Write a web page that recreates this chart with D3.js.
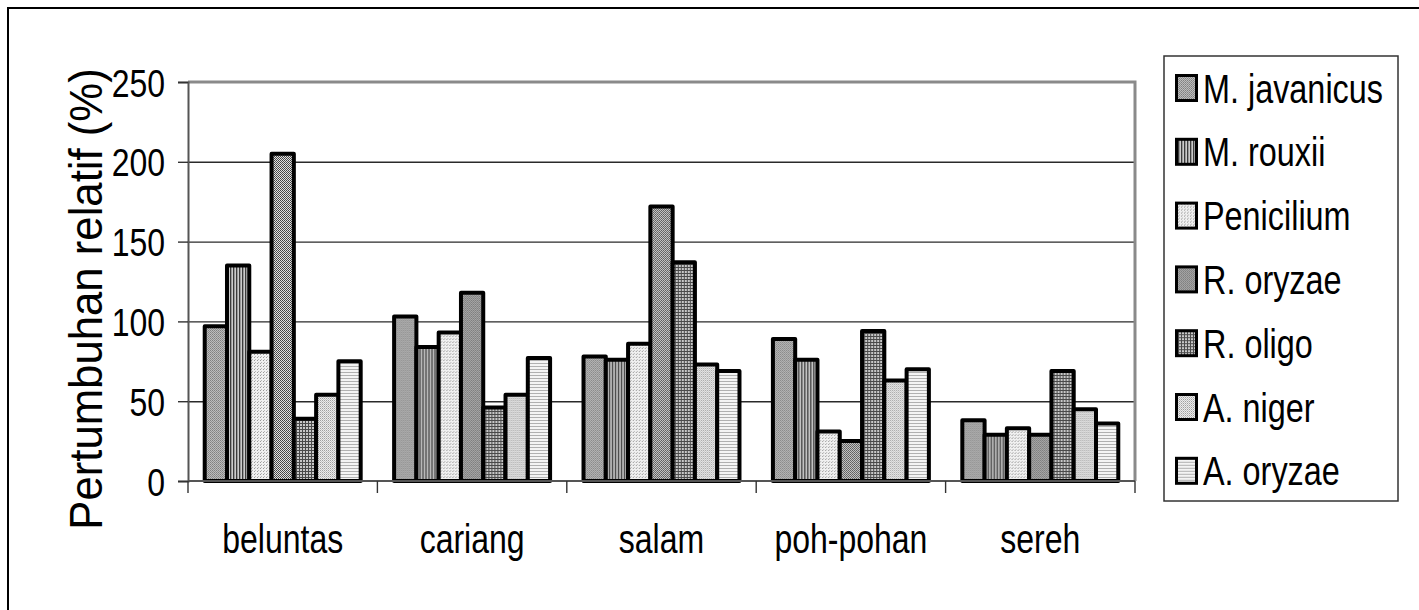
<!DOCTYPE html>
<html>
<head>
<meta charset="utf-8">
<script src="https://cdn.jsdelivr.net/npm/d3@7"></script>
<style>
  body { margin: 0; background: #fff; }
  svg text { font-family: "Liberation Sans", Arial, sans-serif; fill: #000; }
</style>
</head>
<body>
<div id="chart"></div>
<script>
// data
var categories = ["beluntas", "cariang", "salam", "poh-pohan", "sereh"];
var seriesNames = ["M. javanicus", "M. rouxii", "Penicilium", "R. oryzae", "R. oligo", "A. niger", "A. oryzae"];
var mJavanicus = [97, 103, 78, 89, 38];
var mRouxii    = [135, 84, 76, 76, 29];
var penicilium = [81, 93, 86, 31, 33];
var rOryzae    = [205, 118, 172, 25, 29];
var rOligo     = [39, 46, 137, 94, 69];
var aNiger     = [54, 54, 73, 63, 45];
var aOryzae    = [75, 77, 69, 70, 36];
var yTicks = [0, 50, 100, 150, 200, 250];

var seriesValues = [mJavanicus, mRouxii, penicilium, rOryzae, rOligo, aNiger, aOryzae];

var width = 1419, height = 610;
var plot = { left: 188, right: 1135, top: 82, bottom: 481 };

var svg = d3.select("#chart").append("svg")
  .attr("width", width)
  .attr("height", height);

// fill patterns (greyscale, like the old excel print)
var defs = svg.append("defs");
function pat(id, size, bg, marks) {
  var p = defs.append("pattern").attr("id", id)
    .attr("patternUnits", "userSpaceOnUse")
    .attr("width", size).attr("height", size);
  p.append("rect").attr("width", size).attr("height", size).attr("fill", bg);
  marks.forEach(function (m) {
    p.append("rect").attr("x", m[0]).attr("y", m[1]).attr("width", m[2]).attr("height", m[3]).attr("fill", m[4]);
  });
}
pat("p0", 2, "#bcbcbc", [[0, 0, 1, 1, "#808080"], [1, 1, 1, 1, "#909090"]]);
pat("p1", 3, "#cccccc", [[0, 0, 1, 3, "#3c3c3c"], [1, 0, 1, 3, "#9a9a9a"]]);
pat("p2", 3, "#f0f0f0", [[0, 0, 1, 1, "#9a9a9a"], [1, 2, 1, 1, "#b8b8b8"]]);
pat("p3", 2, "#e0e0e0", [[0, 0, 1, 1, "#404040"], [1, 1, 1, 1, "#505050"]]);
pat("p4", 3, "#c8c8c8", [[0, 0, 3, 1, "#4a4a4a"], [0, 0, 1, 3, "#4a4a4a"]]);
pat("p5", 2, "#ececec", [[0, 0, 1, 1, "#a0a0a0"], [1, 1, 1, 1, "#c4c4c4"]]);
pat("p6", 3, "#f4f4f4", [[0, 0, 3, 1, "#b0b0b0"]]);

// outer frame (runs off the right and bottom of the picture)
svg.append("rect")
  .attr("x", 8).attr("y", 8)
  .attr("width", 1440).attr("height", 640)
  .attr("fill", "none").attr("stroke", "#000").attr("stroke-width", 2);

var y = d3.scaleLinear().domain([0, 250]).range([plot.bottom, plot.top]);
var x0 = d3.scaleBand().domain(categories).range([plot.left, plot.right]);
var bw = x0.bandwidth();
var pad = bw * 0.75 / 8.5; // gap width 150%
var x1 = d3.scaleBand().domain(seriesNames).range([pad, bw - pad]);

// gridlines
svg.append("g")
  .attr("transform", "translate(" + plot.left + ",0)")
  .call(d3.axisLeft(y).tickValues(yTicks.slice(1, -1)).tickSize(-(plot.right - plot.left)).tickFormat(""))
  .call(function (g) {
    g.select(".domain").remove();
    g.selectAll("line").attr("stroke", "#2a2a2a").attr("stroke-width", 1.4);
  });

// plot area border (top + right)
svg.append("path")
  .attr("d", "M" + plot.left + "," + plot.top + "H" + plot.right + "V" + plot.bottom)
  .attr("fill", "none").attr("stroke", "#8a8a8a").attr("stroke-width", 3);

// bars
var groups = svg.append("g").selectAll("g")
  .data(categories)
  .join("g")
  .attr("transform", function (c) { return "translate(" + x0(c) + ",0)"; });

groups.selectAll("rect")
  .data(function (c, ci) {
    return seriesNames.map(function (s, si) { return { s: s, i: si, v: seriesValues[si][ci] }; });
  })
  .join("rect")
  .attr("x", function (d) { return x1(d.s); })
  .attr("width", x1.bandwidth())
  .attr("y", function (d) { return y(d.v); })
  .attr("height", function (d) { return y(0) - y(d.v); })
  .attr("fill", function (d) { return "url(#p" + d.i + ")"; })
  .attr("stroke", "#000")
  .attr("stroke-width", 4)
  .attr("stroke-linejoin", "round");

// y axis
var yAxis = svg.append("g")
  .attr("transform", "translate(" + plot.left + ",0)")
  .call(d3.axisLeft(y).tickValues(yTicks).tickSize(10).tickPadding(13));
yAxis.select(".domain").attr("stroke", "#555").attr("stroke-width", 2);
yAxis.selectAll(".tick line").attr("stroke", "#333").attr("stroke-width", 1.4);
yAxis.selectAll(".tick text")
  .attr("font-size", 39)
  .attr("x", 0).attr("dy", 14)
  .attr("transform", "translate(-23,0) scale(0.82,1)");

// x axis line and boundary ticks
svg.append("line")
  .attr("x1", plot.left).attr("x2", plot.right)
  .attr("y1", y(0)).attr("y2", y(0))
  .attr("stroke", "#555").attr("stroke-width", 2);
var bounds = categories.map(function (c) { return x0(c); }).concat([x0.range()[1]]);
svg.append("g").selectAll("line")
  .data(bounds)
  .join("line")
  .attr("x1", function (d) { return d; }).attr("x2", function (d) { return d; })
  .attr("y1", y(0)).attr("y2", y(0) + 12)
  .attr("stroke", "#333").attr("stroke-width", 1.4);

// category labels
svg.append("g").selectAll("text")
  .data(categories)
  .join("text")
  .attr("text-anchor", "middle")
  .attr("font-size", 40)
  .attr("transform", function (c) {
    return "translate(" + (x0(c) + bw / 2) + ",553) scale(0.8,1)";
  })
  .text(function (c) { return c; });

// y title
svg.append("text")
  .attr("text-anchor", "middle")
  .attr("font-size", 47)
  .attr("transform", "translate(102,299) rotate(-90) scale(0.93,1)")
  .text("Pertumbuhan relatif (%)");

// legend
svg.append("rect")
  .attr("x", 1164).attr("y", 56)
  .attr("width", 234).attr("height", 445)
  .attr("fill", "#fff").attr("stroke", "#333").attr("stroke-width", 1.5);

var legend = svg.append("g").selectAll("g")
  .data(seriesNames)
  .join("g")
  .attr("transform", function (d, i) { return "translate(1175," + (88 + i * 63.8) + ")"; });

legend.append("rect")
  .attr("x", 1.5).attr("y", -12.5)
  .attr("width", 20).attr("height", 25)
  .attr("fill", function (d, i) { return "url(#p" + i + ")"; })
  .attr("stroke", "#000").attr("stroke-width", 3);

legend.append("text")
  .attr("font-size", 41)
  .attr("transform", "translate(28,14.5) scale(0.79,1)")
  .text(function (d) { return d; });
</script>
</body>
</html>
